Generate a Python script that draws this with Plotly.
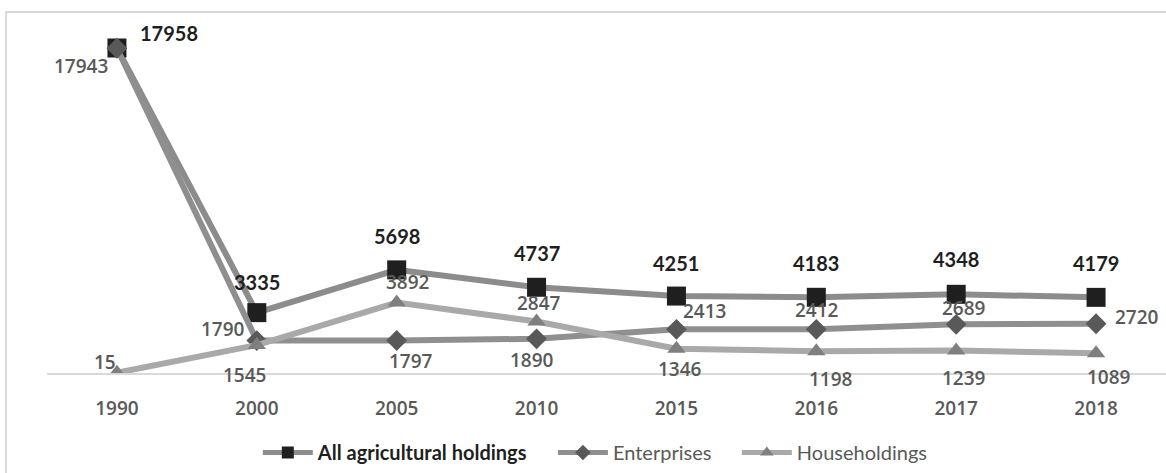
import plotly.graph_objects as go

years = ["1990", "2000", "2005", "2010", "2015", "2016", "2017", "2018"]
all_holdings = [17958, 3335, 5698, 4737, 4251, 4183, 4348, 4179]
enterprises = [17943, 1790, 1797, 1890, 2413, 2412, 2689, 2720]
households = [15, 1545, 3892, 2847, 1346, 1198, 1239, 1089]

# label offsets (px) relative to each point: (dx, dy up)
off_all = [(52, 15), (0, 31), (0, 34), (0, 34), (0, 33), (0, 34), (0, 35), (0, 34)]
off_ent = [(-36, -18), (-34, 12), (14, -21), (-5, -21), (28, 18), (1, 19), (8, 16), (41, 7)]
off_hh = [(-12, 11), (-12, -30), (11, 21), (2, 18), (4, -20), (15, -28), (8, -27), (13, -24)]

FONT = "Lato"
FONT2 = "Open Sans"
DARK = "#1f1f1f"
GRAY = "#595959"
GAP = "&nbsp;" * 4

fig = go.Figure()
fig.add_trace(go.Scatter(
    x=years, y=all_holdings, mode="lines+markers",
    name="<b><span style='color:#1f1f1f'>All agricultural holdings</span></b>" + GAP,
    line=dict(color="#8c8c8c", width=6),
    marker=dict(symbol="square", size=19, color=DARK),
))
fig.add_trace(go.Scatter(
    x=years, y=enterprises, mode="lines+markers",
    name="Enterprises" + GAP,
    line=dict(color="#8f8f8f", width=6),
    marker=dict(symbol="diamond", size=16, color="#595959"),
))
fig.add_trace(go.Scatter(
    x=years, y=households, mode="lines+markers",
    name="Householdings",
    line=dict(color="#a9a9a9", width=6),
    marker=dict(symbol="triangle-up", size=16, color="#7f7f7f"),
))

annotations = []
for series, offs, color, fam, size, weight in [
    (all_holdings, off_all, DARK, FONT, 20, 700),
    (enterprises, off_ent, GRAY, FONT2, 19, 600),
    (households, off_hh, GRAY, FONT2, 19, 600),
]:
    for i, (v, (dx, dy)) in enumerate(zip(series, offs)):
        annotations.append(dict(
            x=i, y=v, xref="x", yref="y", text=str(v), showarrow=False,
            xshift=dx, yshift=dy, xanchor="center", yanchor="middle",
            font=dict(family=fam, size=size, color=color, weight=weight),
        ))

fig.update_layout(
    width=1166, height=473,
    margin=dict(l=47, r=0, t=20, b=100, autoexpand=False),
    paper_bgcolor="white", plot_bgcolor="white",
    font=dict(family=FONT, size=20, color=GRAY),
    showlegend=True,
    legend=dict(orientation="h", x=0.49, xanchor="center", y=-0.17, yanchor="top",
                font=dict(family=FONT, size=20, color=GRAY), itemwidth=50,
                itemsizing="constant", traceorder="normal"),
    annotations=annotations,
    shapes=[dict(type="rect", xref="paper", yref="paper",
                 x0=-0.0366, x1=1.1, y0=-0.5, y1=1.0227,
                 line=dict(color="#d9d9d9", width=2), layer="below")],
)
fig.update_xaxes(type="category", range=[-0.5, 7.5], showgrid=False, zeroline=False,
                 showline=True, linecolor="#d9d9d9", linewidth=2,
                 ticks="", ticklabelstandoff=17,
                 tickfont=dict(family=FONT2, size=19, color=GRAY, weight=600))
fig.update_yaxes(range=[0, 19505], visible=False, showgrid=False, zeroline=False)

fig.write_html("out.html", config={"displayModeBar": False},
               post_script="document.body.style.margin='0';")
